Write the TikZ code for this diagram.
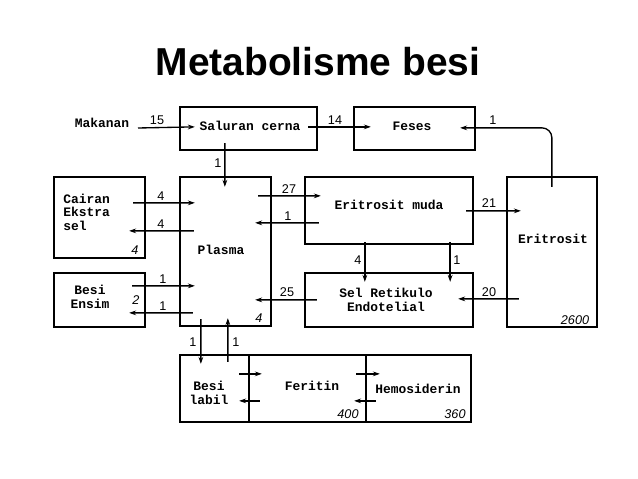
\documentclass[tikz,border=0pt]{standalone}
\usepackage{fontspec}
\setmainfont{Liberation Sans}
\setmonofont{Liberation Mono}
\usetikzlibrary{arrows.meta,calc}

\begin{document}
\begin{tikzpicture}[x=0.025cm, y=-0.025cm,
    box/.style={rectangle, draw, line width=1.6pt, inner sep=0pt},
    lbl/.style={font=\ttfamily\bfseries\fontsize{9.2}{10}\selectfont, align=center, inner sep=0pt},
    num/.style={font=\fontsize{9}{10}\selectfont, inner sep=0pt},
    cnr/.style={font=\itshape\fontsize{9}{10}\selectfont, inner sep=0pt},
    arrow/.style={-{Stealth[length=5pt,width=3.4pt]}, line width=0.95pt}
]
\useasboundingbox (0,0) rectangle (638,479);
\node[font=\bfseries\fontsize{27.7}{30}\selectfont, anchor=base] (title) at (318,75) {Metabolisme besi};

% compartments
\node[box, minimum width=3.425cm, minimum height=1.075cm] (cerna)  at (248.5,128.5) {};
\node[box, minimum width=3.025cm, minimum height=1.075cm] (feses)  at (414.5,128.5) {};
\node[box, minimum width=2.275cm, minimum height=2.025cm] (cairan) at (99.5,217.5) {};
\node[box, minimum width=2.275cm, minimum height=1.35cm]  (ensim)  at (99.5,300) {};
\node[box, minimum width=2.275cm, minimum height=3.725cm] (plasma) at (225.5,251.5) {};
\node[box, minimum width=4.2cm,   minimum height=1.675cm] (muda)   at (389,210.5) {};
\node[box, minimum width=4.2cm,   minimum height=1.35cm]  (reti)   at (389,300) {};
\node[box, minimum width=2.25cm,  minimum height=3.75cm]  (eri)    at (552,252) {};
\node[box, minimum width=1.725cm, minimum height=1.675cm] (labil)  at (214.5,388.5) {};
\node[box, minimum width=2.925cm, minimum height=1.675cm] (feritin) at (307.5,388.5) {};
\node[box, minimum width=2.625cm, minimum height=1.675cm] (hemo)   at (418.5,388.5) {};

% texts
\node[lbl, anchor=base] (tmakan) at (102,127) {Makanan};
\node[lbl] (tcerna)  at (250,126) {Saluran cerna};
\node[lbl] (tfeses)  at (412,126) {Feses};
\node[lbl, align=left, anchor=west, font=\ttfamily\bfseries\fontsize{9.2}{9.6}\selectfont] (tcairan) at (63,212) {Cairan\\Ekstra\\sel};
\node[lbl] (tensim) at (90,297) {Besi\\Ensim};
\node[lbl] (tplasma) at (221,250) {Plasma};
\node[lbl] (tmuda)   at (389,205) {Eritrosit muda};
\node[lbl] (treti)   at (386,300) {Sel Retikulo\\Endotelial};
\node[lbl] (teri)    at (553,239) {Eritrosit};
\node[lbl] (tlabil)  at (209,393) {Besi\\labil};
\node[lbl] (tferitin) at (312,386) {Feritin};
\node[lbl] (themo)   at (418,389) {Hemosiderin};

% amounts
\node[cnr] (qcairan)  at (135,250) {4};
\node[cnr] (qensim)   at (136,300) {2};
\node[cnr] (qplasma)  at (259,318) {4};
\node[cnr] (qeri)     at (575,320) {2600};
\node[cnr] (qferitin) at (348,414) {400};
\node[cnr] (qhemo)    at (455,414) {360};

% fluxes
\coordinate (food) at (138,128);
\draw[arrow] (food) -- ($(cerna.north west)+(16,21)$);
\draw[arrow] ($(cerna.north east)+(-10,21)$) -- ($(feses.north west)+(18,21)$);
\draw[arrow, rounded corners=7pt] ($(eri.north west)+(46,11)$) |- ($(feses.north east)+(-16,22)$);
\draw[arrow] ($(cerna.south west)+(46,-8)$) -- ($(plasma.north west)+(46,11)$);
\draw[arrow] ($(plasma.north east)+(-14,20)$) -- ($(muda.north west)+(17,20)$);
\draw[arrow] ($(muda.north west)+(15,47)$) -- ($(plasma.north east)+(-17,47)$);
\draw[arrow] ($(cairan.north east)+(-13,27)$) -- ($(plasma.north west)+(16,27)$);
\draw[arrow] ($(plasma.north west)+(15,55)$) -- ($(cairan.north east)+(-17,55)$);
\draw[arrow] ($(ensim.north east)+(-14,14)$) -- ($(plasma.north west)+(16,110)$);
\draw[arrow] ($(plasma.north west)+(14,137)$) -- ($(ensim.north east)+(-17,41)$);
\draw[arrow] ($(reti.north west)+(13,28)$) -- ($(plasma.north east)+(-17,124)$);
\draw[arrow] ($(muda.north east)+(-8,35)$) -- ($(eri.north west)+(15,35)$);
\draw[arrow] ($(muda.south west)+(61,-3)$) -- ($(reti.north west)+(61,10)$);
\draw[arrow] ($(muda.south east)+(-24,-3)$) -- ($(reti.north east)+(-24,10)$);
\draw[arrow] ($(eri.north west)+(13,123)$) -- ($(reti.north east)+(-16,27)$);
\draw[arrow] ($(plasma.south west)+(22,-8)$) -- ($(labil.north west)+(22,10)$);
\draw[arrow] ($(labil.north west)+(49,8)$) -- ($(plasma.south west)+(49,-9)$);
\draw[arrow] ($(labil.north east)+(-11,20)$) -- ($(feritin.north west)+(14,20)$);
\draw[arrow] ($(feritin.north west)+(12,47)$) -- ($(labil.north east)+(-11,47)$);
\draw[arrow] ($(feritin.north east)+(-11,20)$) -- ($(hemo.north west)+(15,20)$);
\draw[arrow] ($(hemo.north west)+(11,47)$) -- ($(feritin.north east)+(-13,47)$);

% flux labels
\node[num] (f15) at (157,120) {15};
\node[num] (f14) at (335,120) {14};
\node[num] (f1a) at (493,120) {1};
\node[num] (f1b) at (218,163) {1};
\node[num] (f27) at (289,189) {27};
\node[num] (f1c) at (288,216) {1};
\node[num] (f4a) at (161,196) {4};
\node[num] (f4b) at (161,224) {4};
\node[num] (f1d) at (163,279) {1};
\node[num] (f1e) at (163,306) {1};
\node[num] (f25) at (287,292) {25};
\node[num] (f21) at (489,203) {21};
\node[num] (f4c) at (358,260) {4};
\node[num] (f1f) at (457,260) {1};
\node[num] (f20) at (489,292) {20};
\node[num] (f1g) at (193,342) {1};
\node[num] (f1h) at (236,342) {1};
\end{tikzpicture}
\end{document}
